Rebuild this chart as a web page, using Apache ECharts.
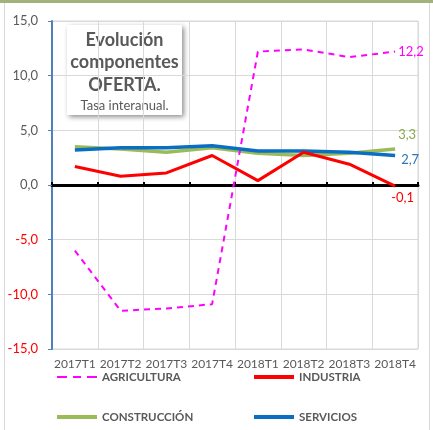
<!DOCTYPE html>
<html><head><meta charset="utf-8">
<script src="https://cdn.jsdelivr.net/npm/echarts@6/dist/echarts.min.js"></script>
<style>html,body{margin:0;padding:0;background:#fff}#c{width:433px;height:430px}</style>
</head><body><div id="c"></div>
<script>
const categories = ['2017T1','2017T2','2017T3','2017T4','2018T1','2018T2','2018T3','2018T4'];
const agricultura = [-6.0, -11.5, -11.3, -10.9, 12.2, 12.4, 11.7, 12.2];
const industria = [1.7, 0.8, 1.1, 2.7, 0.4, 3.0, 1.9, -0.1];
const construccion = [3.5, 3.3, 3.0, 3.4, 2.9, 2.7, 2.9, 3.3];
const servicios = [3.2, 3.4, 3.4, 3.6, 3.1, 3.1, 3.0, 2.7];
const yTicks = [-15, -10, -5, 0, 5, 10, 15];

const FONT = 'Lato';
const GRAY = '#595959';
const fmt = v => Number(v).toFixed(1).replace('.', ',');
const endLab = (color, offset) => ({
  show: true, color: color, fontFamily: FONT, fontSize: 13, offset: offset, distance: 3,
  formatter: p => fmt(p.value)
});
const ICON_SOLID = 'path://M0,0h40v4h-40z';
const ICON_DASH = 'path://M0,0h10v2h-10z M16,0h8v2h-8z M30,0h10v2h-10z';

const chart = echarts.init(document.getElementById('c'), null, {renderer: 'canvas'});
const legendBase = {
  orient: 'horizontal', itemWidth: 40, itemGap: 4, padding: 0,
  textStyle: {color: GRAY, fontFamily: FONT, fontSize: 11.5, fontWeight: 'bold'},
  selectedMode: false
};
chart.setOption({
  animation: false,
  backgroundColor: '#fff',
  grid: {left: 52, right: 15, top: 21, bottom: 81, show: true, borderColor: '#d9d9d9', borderWidth: 1},
  graphic: [
    {type: 'rect', shape: {x: 0, y: 0, width: 433, height: 3}, style: {fill: '#a3b27c'}, z: 100},
    {type: 'line', shape: {x1: 4.5, y1: 3, x2: 4.5, y2: 430}, style: {stroke: '#d9d9d9', lineWidth: 1}},
    {type: 'line', shape: {x1: 429.5, y1: 3, x2: 429.5, y2: 430}, style: {stroke: '#d9d9d9', lineWidth: 1}},
    {type: 'group', z: 50, children: [
      {type: 'rect', shape: {x: 67, y: 25, width: 115, height: 90},
       style: {fill: '#fff', shadowBlur: 5, shadowOffsetX: 2, shadowOffsetY: 2, shadowColor: 'rgba(0,0,0,0.45)'}},
      {type: 'text', x: 124.5, y: 40, style: {text: 'Evolución', fill: GRAY, font: 'bold 18px Lato', align: 'center', verticalAlign: 'middle'}},
      {type: 'text', x: 124.5, y: 62, style: {text: 'componentes', fill: GRAY, font: 'bold 18px Lato', align: 'center', verticalAlign: 'middle'}},
      {type: 'text', x: 124.5, y: 85, style: {text: 'OFERTA.', fill: GRAY, font: 'bold 18px Lato', align: 'center', verticalAlign: 'middle'}},
      {type: 'text', x: 124.5, y: 106, style: {text: 'Tasa interanual.', fill: GRAY, font: '13px Lato', align: 'center', verticalAlign: 'middle'}}
    ]}
  ],
  legend: [
    Object.assign({left: 57, top: 371, itemHeight: 2, data: [{name: 'AGRICULTURA', icon: ICON_DASH}]}, legendBase),
    Object.assign({left: 254, top: 371, itemHeight: 4, data: [{name: 'INDUSTRIA', icon: ICON_SOLID}]}, legendBase),
    Object.assign({left: 57, top: 411, itemHeight: 4, data: [{name: 'CONSTRUCCIÓN', icon: ICON_SOLID}]}, legendBase),
    Object.assign({left: 254, top: 411, itemHeight: 4, data: [{name: 'SERVICIOS', icon: ICON_SOLID}]}, legendBase)
  ],
  xAxis: [
    {type: 'category', data: categories, position: 'bottom', boundaryGap: true,
     axisLine: {show: false, onZero: false}, axisTick: {show: false},
     axisLabel: {color: GRAY, fontFamily: FONT, fontSize: 12, margin: 9, interval: 0},
     splitLine: {show: true, interval: 0, lineStyle: {color: '#d9d9d9', width: 1}}},
    {type: 'category', data: categories, position: 'top', boundaryGap: true,
     axisLine: {show: true, onZero: true, lineStyle: {color: '#000', width: 3}},
     axisTick: {show: true, interval: 0, length: 3, lineStyle: {color: '#000', width: 2}},
     axisLabel: {show: false}, splitLine: {show: false}}
  ],
  yAxis: {
    type: 'value', min: -15, max: 15, interval: 5,
    axisLine: {show: true, onZero: false, lineStyle: {color: '#4f81bd', width: 2}},
    axisTick: {show: true, length: 4, lineStyle: {color: '#4f81bd', width: 1}},
    axisLabel: {fontFamily: FONT, fontSize: 13, margin: 14,
      formatter: v => fmt(v),
      color: v => (Number(v) < 0 ? '#ff0000' : GRAY)},
    splitLine: {show: true, lineStyle: {color: '#d9d9d9', width: 1}}
  },
  series: [
    {name: 'AGRICULTURA', type: 'line', data: agricultura, symbol: 'none', z: 3,
     lineStyle: {color: '#ff00ff', width: 2, type: [6, 5]}, itemStyle: {color: '#ff00ff'},
     endLabel: endLab('#ff00ff', [0, 0])},
    {name: 'INDUSTRIA', type: 'line', data: industria, symbol: 'none', z: 4,
     lineStyle: {color: '#ff0000', width: 3}, itemStyle: {color: '#ff0000'},
     endLabel: endLab('#ff0000', [-7, 12])},
    {name: 'CONSTRUCCIÓN', type: 'line', data: construccion, symbol: 'none', z: 2,
     lineStyle: {color: '#9bbb59', width: 3.5}, itemStyle: {color: '#9bbb59'},
     endLabel: endLab('#8aa84c', [0, -14])},
    {name: 'SERVICIOS', type: 'line', data: servicios, symbol: 'none', z: 3,
     lineStyle: {color: '#0a6fc2', width: 3.5}, itemStyle: {color: '#0a6fc2'},
     endLabel: endLab('#2e75b6', [3, 4])}
  ]
});
</script></body></html>
